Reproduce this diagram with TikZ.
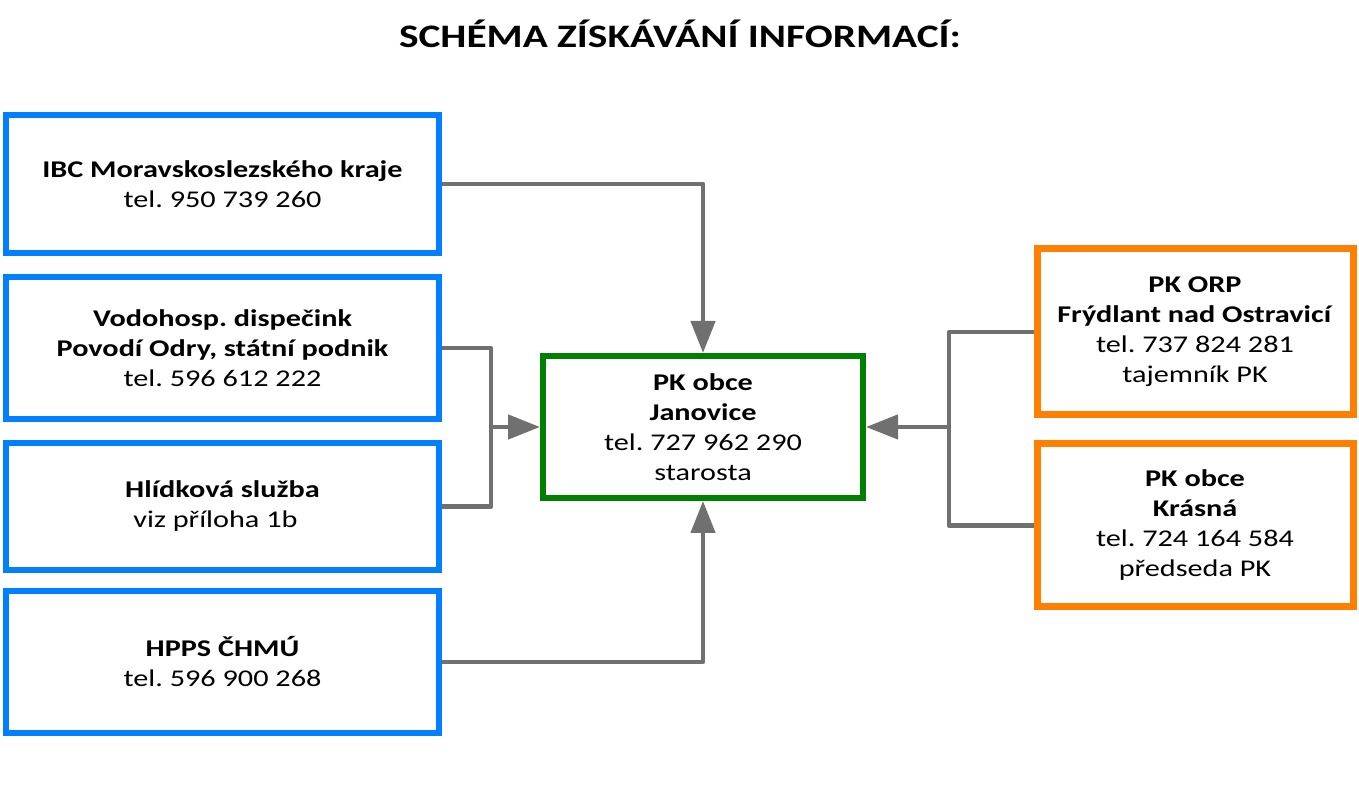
\documentclass[tikz,border=0pt]{standalone}
\usepackage{fontspec}
\setmainfont{Carlito}[FakeStretch=1.26]
\usepackage{xcolor}
\usepackage{tikz}
\usetikzlibrary{positioning,arrows.meta}
\definecolor{myblue}{RGB}{0,128,255}
\definecolor{mygreen}{RGB}{0,128,0}
\definecolor{myorange}{RGB}{255,128,0}
\definecolor{mygray}{RGB}{112,112,112}

\begin{document}
\frenchspacing
\begin{tikzpicture}[x=1pt, y=1pt, font=\fontsize{24}{30}\selectfont,
        box/.style={draw, rectangle, fill=white, align=center, inner sep=0pt},
        bluebox/.style={box, draw=myblue, line width=6.5pt, outer sep=3.25pt, minimum width=433pt},
        greenbox/.style={box, draw=mygreen, line width=6pt, outer sep=3pt, minimum width=320pt, minimum height=142pt},
        orangebox/.style={box, draw=myorange, line width=7pt, outer sep=3.5pt, minimum width=316pt},
        wire/.style={draw=mygray, line width=4.5pt, line join=round},
        arrow/.style={wire, -{Triangle[length=32pt,width=24pt]}}]
        \useasboundingbox (0,0) rectangle (1359,787);
        \node[font=\fontsize{32.8}{40}\selectfont\bfseries] (T) at (680,753) {SCHÉMA ZÍSKÁVÁNÍ INFORMACÍ:};
        \node[bluebox, minimum height=138pt] (A) at (222.5,603) {\textbf{IBC Moravskoslezského kraje}\\tel. 950 739 260};
        \node[bluebox, minimum height=142pt] (B) [below=17.5pt of A] {\textbf{Vodohosp. dispečink}\\\textbf{Povodí Odry, státní podnik}\\tel. 596 612 222};
        \node[bluebox, minimum height=127pt] (C) [below=17.5pt of B] {\textbf{Hlídková služba}\\viz příloha 1b\hspace*{14pt}};
        \node[bluebox, minimum height=142pt] (D) [below=14.5pt of C] {\textbf{HPPS ČHMÚ}\\tel. 596 900 268};
        \node[greenbox] (E) at (703,360) {\textbf{PK obce}\\\textbf{Janovice}\\tel. 727 962 290\\starosta};
        \node[orangebox, minimum height=166pt] (F) at (1195,455) {\textbf{PK ORP}\\\textbf{Frýdlant nad Ostravicí}\\tel. 737 824 281\hspace*{14pt}\\tajemník PK};
        \node[orangebox, minimum height=163pt] (G) [below=22pt of F] {\textbf{PK obce}\\\textbf{Krásná}\\tel. 724 164 584\\předseda PK};
        \coordinate (L) at (491,360);
        \coordinate (R) at (949,360);
        \draw[arrow] (A.east) -| (E.north);
        \draw[arrow] (D.east) -| (E.south);
        \draw[wire] (B.east) -| (L) |- (C.east);
        \draw[arrow] (L) -- (E.west);
        \draw[wire] (F.west) -| (R) |- (G.west);
        \draw[arrow] (R) -- (E.east);
\end{tikzpicture}
\end{document}
